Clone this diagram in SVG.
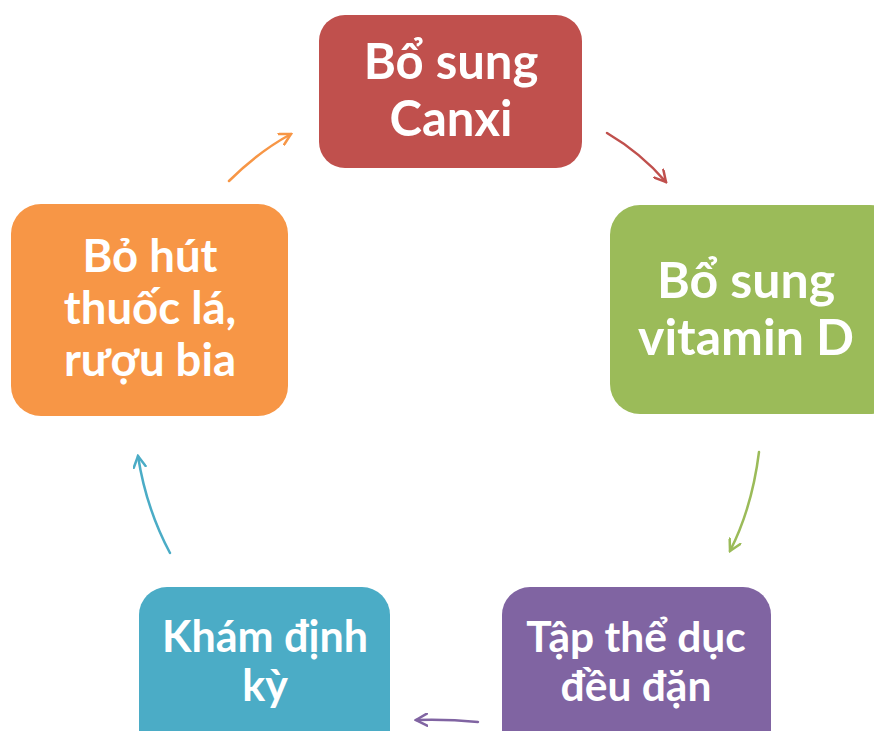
<svg xmlns="http://www.w3.org/2000/svg" width="874" height="731" viewBox="0 0 874 731">
<style>
.t{font-family:Lato,"Noto Sans",sans-serif;font-weight:bold;fill:#fff;text-anchor:middle}
.c{fill:none;stroke-width:2.5;stroke-linecap:round}
</style>
<defs>
<marker id="mo" viewBox="0 0 14 14" refX="12" refY="7" markerWidth="14" markerHeight="14" markerUnits="userSpaceOnUse" orient="auto"><path d="M1,1 L12,7 L1,13" fill="none" stroke="#F79646" stroke-width="2.5" stroke-linecap="round"/></marker>
<marker id="mr" viewBox="0 0 14 14" refX="12" refY="7" markerWidth="14" markerHeight="14" markerUnits="userSpaceOnUse" orient="auto"><path d="M1,1 L12,7 L1,13" fill="none" stroke="#C0504D" stroke-width="2.5" stroke-linecap="round"/></marker>
<marker id="mg" viewBox="0 0 14 14" refX="12" refY="7" markerWidth="14" markerHeight="14" markerUnits="userSpaceOnUse" orient="auto"><path d="M1,1 L12,7 L1,13" fill="none" stroke="#9BBB59" stroke-width="2.5" stroke-linecap="round"/></marker>
<marker id="mp" viewBox="0 0 14 14" refX="12" refY="7" markerWidth="14" markerHeight="14" markerUnits="userSpaceOnUse" orient="auto"><path d="M1,1 L12,7 L1,13" fill="none" stroke="#8064A2" stroke-width="2.5" stroke-linecap="round"/></marker>
<marker id="mb" viewBox="0 0 14 14" refX="12" refY="7" markerWidth="14" markerHeight="14" markerUnits="userSpaceOnUse" orient="auto"><path d="M1,1 L12,7 L1,13" fill="none" stroke="#4BACC6" stroke-width="2.5" stroke-linecap="round"/></marker>
</defs>
<rect width="874" height="731" fill="#fff"/>
<g id="connectors">
<path class="c" stroke="#F79646" d="M229,181 Q258,152 291,134" marker-end="url(#mo)"/>
<path class="c" stroke="#C0504D" d="M607,133 Q641,153 666,182" marker-end="url(#mr)"/>
<path class="c" stroke="#9BBB59" d="M759,452 Q752,508 730,551" marker-end="url(#mg)"/>
<path class="c" stroke="#8064A2" d="M478,722 Q447,719 416,720" marker-end="url(#mp)"/>
<path class="c" stroke="#4BACC6" d="M170,553 Q146,508 138,456" marker-end="url(#mb)"/>
</g>
<g id="n1"><rect x="319" y="15" width="263" height="153" rx="26" fill="#C0504D"/>
<text class="t" font-size="49"><tspan x="451" y="79">Bổ sung</tspan><tspan x="451" y="136">Canxi</tspan></text></g>
<g id="n2"><rect x="610" y="205" width="290" height="209" rx="30" fill="#9BBB59"/>
<text class="t" font-size="50"><tspan x="746" y="298">Bổ sung</tspan><tspan x="746" y="355">vitamin D</tspan></text></g>
<g id="n3"><rect x="502" y="587" width="269" height="180" rx="28" fill="#8064A2"/>
<text class="t" font-size="42.5"><tspan x="636" y="652">Tập thể dục</tspan><tspan x="636" y="701">đều đặn</tspan></text></g>
<g id="n4"><rect x="139" y="587" width="251" height="180" rx="28" fill="#4BACC6"/>
<text class="t" font-size="43"><tspan x="265" y="652">Khám định</tspan><tspan x="265" y="701">kỳ</tspan></text></g>
<g id="n5"><rect x="11" y="204" width="277" height="212" rx="30" fill="#F79646"/>
<text class="t" font-size="45.5"><tspan x="150" y="272">Bỏ hút</tspan><tspan x="150" y="324">thuốc lá,</tspan><tspan x="150" y="376">rượu bia</tspan></text></g>
</svg>
